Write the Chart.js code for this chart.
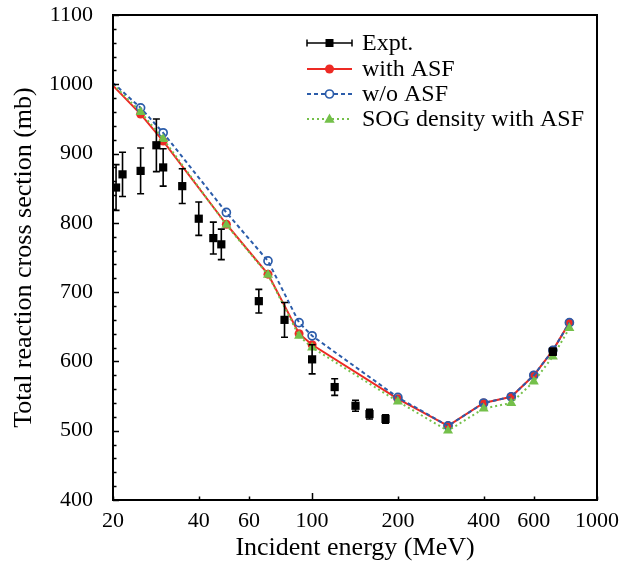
<!DOCTYPE html>
<html>
<head>
<meta charset="utf-8">
<script src="https://cdn.jsdelivr.net/npm/chart.js@4.4.1/dist/chart.umd.min.js"></script>
<style>
  html, body { margin: 0; padding: 0; background: #fff; }
  canvas { display: block; }
</style>
</head>
<body>
<canvas id="chart" width="641" height="573"></canvas>
<script>
// theory curves (MeV, mb)
const energyTheory = [20, 25, 30, 50, 70, 90, 100, 200, 300, 400, 500, 600, 700, 800];
const withASF = [998, 957, 918, 798, 726, 640, 624, 546, 507, 540, 549, 580, 616, 656];
const withoutASF = [1002, 966, 930, 815, 745, 656, 637, 548, 507, 540, 549, 580, 616, 656];
const sogWithASF = [1000, 960, 921, 797, 725, 637, 620, 542, 500, 532, 540, 571, 607, 648];

// experimental points
const energyExpt = [20.5, 21.6, 25, 28.4, 30, 35, 40, 45, 48, 65, 80, 100, 120, 142, 159, 181, 700];
const sigmaExpt = [851, 870, 875, 912, 880, 853, 806, 778, 769, 687, 660, 603, 563, 536, 524, 517, 614];
const errExpt = [33, 32, 33, 38, 27, 25, 24, 23, 22, 17, 25, 21, 12, 8, 7, 6, 5];

const xTicks = [20, 40, 60, 100, 200, 400, 600, 1000];

const RED = '#ed2a24';
const BLUE = '#2b5caa';
const GREEN = '#74c04a';
const SERIF = '"Liberation Serif", "Times New Roman", serif';

const toPoints = (xs, ys) => xs.map((x, i) => ({ x, y: ys[i] }));
// no marker on the point sitting on the left axis
const radii = (r) => energyTheory.map((e, i) => i === 0 ? 0 : r);

const errorBars = {
  id: 'errorBars',
  afterDatasetsDraw(chart) {
    const { ctx, scales: { y } } = chart;
    const meta = chart.getDatasetMeta(0);
    ctx.save();
    ctx.strokeStyle = '#000';
    ctx.lineWidth = 1.6;
    meta.data.forEach((pt, i) => {
      const y1 = y.getPixelForValue(sigmaExpt[i] + errExpt[i]);
      const y2 = y.getPixelForValue(sigmaExpt[i] - errExpt[i]);
      ctx.beginPath();
      ctx.moveTo(pt.x, y1); ctx.lineTo(pt.x, y2);
      ctx.moveTo(pt.x - 3.5, y1); ctx.lineTo(pt.x + 3.5, y1);
      ctx.moveTo(pt.x - 3.5, y2); ctx.lineTo(pt.x + 3.5, y2);
      ctx.stroke();
    });
    ctx.restore();
  }
};

const frame = {
  id: 'frame',
  afterDraw(chart) {
    const { ctx, chartArea: { left, right, top, bottom }, scales: { x, y } } = chart;
    ctx.save();
    ctx.strokeStyle = '#000';
    ctx.lineWidth = 1.5;
    ctx.beginPath();
    for (let v = 400; v <= 1100; v += 20) {
      const py = Math.round(y.getPixelForValue(v)) + 0.5;
      const len = v % 100 === 0 ? 6 : 3.5;
      ctx.moveTo(left, py); ctx.lineTo(left + len, py);
    }
    xTicks.forEach((v) => {
      const px = Math.round(x.getPixelForValue(v)) + 0.5;
      const len = v === 100 ? 7 : 3.5;
      ctx.moveTo(px, bottom); ctx.lineTo(px, bottom - len);
    });
    ctx.stroke();
    ctx.lineWidth = 2;
    ctx.strokeRect(left, top, right - left, bottom - top);

    // legend, Origin style
    const lx1 = 307, lx2 = 352, mx = 329.5, tx = 362;
    const rows = [43, 69, 94, 119];
    ctx.font = '24px ' + SERIF;
    ctx.textBaseline = 'middle';
    ctx.fillStyle = '#000';
    const labels = ['Expt.', 'with ASF', 'w/o ASF', 'SOG density with ASF'];
    labels.forEach((t, i) => ctx.fillText(t, tx, rows[i] + 1));

    // Expt.
    let ry = rows[0];
    ctx.strokeStyle = '#000'; ctx.lineWidth = 1.5; ctx.setLineDash([]);
    ctx.beginPath();
    ctx.moveTo(lx1, ry); ctx.lineTo(lx2, ry);
    ctx.moveTo(lx1, ry - 3.5); ctx.lineTo(lx1, ry + 3.5);
    ctx.moveTo(lx2, ry - 3.5); ctx.lineTo(lx2, ry + 3.5);
    ctx.stroke();
    ctx.fillRect(mx - 4, ry - 4, 8, 8);

    // with ASF
    ry = rows[1];
    ctx.strokeStyle = RED; ctx.lineWidth = 2;
    ctx.beginPath(); ctx.moveTo(lx1, ry); ctx.lineTo(lx2, ry); ctx.stroke();
    ctx.fillStyle = RED;
    ctx.beginPath(); ctx.arc(mx, ry, 4.5, 0, Math.PI * 2); ctx.fill();

    // w/o ASF
    ry = rows[2];
    ctx.strokeStyle = BLUE; ctx.lineWidth = 2; ctx.setLineDash([4, 3]);
    ctx.beginPath(); ctx.moveTo(lx1, ry); ctx.lineTo(mx - 4.5, ry); ctx.moveTo(mx + 4.5, ry); ctx.lineTo(lx2, ry); ctx.stroke();
    ctx.setLineDash([]); ctx.lineWidth = 1.7;
    ctx.beginPath(); ctx.arc(mx, ry, 4, 0, Math.PI * 2); ctx.stroke();

    // SOG
    ry = rows[3];
    ctx.strokeStyle = GREEN; ctx.lineWidth = 2; ctx.setLineDash([2, 3]);
    ctx.beginPath(); ctx.moveTo(lx1, ry); ctx.lineTo(lx2, ry); ctx.stroke();
    ctx.setLineDash([]);
    ctx.fillStyle = GREEN;
    ctx.beginPath();
    ctx.moveTo(mx, ry - 5.5); ctx.lineTo(mx + 5.2, ry + 3.8); ctx.lineTo(mx - 5.2, ry + 3.8);
    ctx.closePath(); ctx.fill();
    ctx.restore();
  }
};

new Chart(document.getElementById('chart'), {
  type: 'scatter',
  data: {
    datasets: [
      {
        label: 'Expt.',
        data: toPoints(energyExpt, sigmaExpt),
        pointStyle: 'rect',
        pointRadius: 5.8,
        backgroundColor: '#000',
        borderColor: '#000',
        borderWidth: 0,
        showLine: false,
      },
      {
        label: 'SOG density with ASF',
        data: toPoints(energyTheory, sogWithASF),
        showLine: true,
        borderColor: GREEN,
        backgroundColor: GREEN,
        borderWidth: 2,
        borderDash: [2, 3],
        pointStyle: 'triangle',
        pointRadius: radii(5.8),
        pointBorderWidth: 0,
      },
      {
        label: 'w/o ASF',
        data: toPoints(energyTheory, withoutASF),
        showLine: true,
        borderColor: BLUE,
        backgroundColor: 'rgba(0,0,0,0)',
        borderWidth: 2,
        borderDash: [4, 3],
        pointStyle: 'circle',
        pointRadius: radii(4),
        pointBorderWidth: 1.7,
      },
      {
        label: 'with ASF',
        data: toPoints(energyTheory, withASF),
        showLine: true,
        borderColor: RED,
        backgroundColor: RED,
        borderWidth: 2,
        pointStyle: 'circle',
        pointRadius: radii(4.5),
        pointBorderWidth: 0,
      },
    ],
  },
  plugins: [errorBars, frame],
  options: {
    responsive: false,
    animation: false,
    devicePixelRatio: 1,
    layout: { padding: { left: 0, top: 15, right: 44, bottom: 0 } },
    plugins: {
      legend: { display: false },
      tooltip: { enabled: false },
    },
    scales: {
      x: {
        type: 'logarithmic',
        min: 20,
        max: 1000,
        afterBuildTicks: (scale) => { scale.ticks = xTicks.map((v) => ({ value: v })); },
        afterFit: (scale) => { scale.height = 73; },
        grid: { display: false },
        border: { display: false },
        ticks: {
          color: '#000',
          font: { family: SERIF, size: 22 },
          padding: 0,
          maxRotation: 0,
          autoSkip: false,
          callback: (v) => String(v),
        },
        title: {
          display: true,
          text: 'Incident energy (MeV)',
          color: '#000',
          font: { family: SERIF, size: 26, lineHeight: 1.2 },
          padding: { top: 0, bottom: 9 },
        },
      },
      y: {
        min: 400,
        max: 1100,
        afterFit: (scale) => { scale.width = 113; },
        grid: { display: false },
        border: { display: false },
        ticks: {
          stepSize: 100,
          color: '#000',
          // small line height keeps the top label from pushing the plot down
          font: { family: SERIF, size: 22, lineHeight: 0.2 },
          padding: 12,
          callback: (v) => String(v),
        },
        title: {
          display: true,
          text: 'Total reaction cross section (mb)',
          color: '#000',
          font: { family: SERIF, size: 26, lineHeight: 1.2 },
          padding: { top: 9, bottom: 0 },
        },
      },
    },
  },
});
</script>
</body>
</html>
